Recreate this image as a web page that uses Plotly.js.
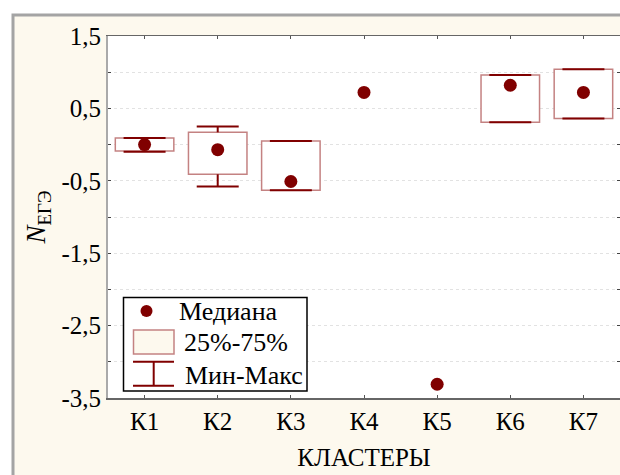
<!DOCTYPE html>
<html>
<head>
<meta charset="utf-8">
<script src="https://cdn.plot.ly/plotly-3.0.1.min.js"></script>
<style>html,body{margin:0;padding:0;background:#fff;}#chart{width:620px;height:475px;}</style>
</head>
<body>
<div id="chart"></div>
<script>
// ---- data ----
const clusters = ['К1', 'К2', 'К3', 'К4', 'К5', 'К6', 'К7'];
const medians  = [0.00, -0.07, -0.51, 0.72, -3.31, 0.82, 0.72];
const q1       = [-0.09, -0.41, -0.63, null, null, 0.31, 0.36];
const q3       = [0.09, 0.17, 0.05, null, null, 0.96, 1.04];
const mins     = [-0.10, -0.58, -0.63, null, null, 0.31, 0.36];
const maxs     = [0.09, 0.25, 0.05, null, null, 0.96, 1.04];
const yTickVals = [-3.5, -2.5, -1.5, -0.5, 0.5, 1.5];
const yTickText = ['-3,5', '-2,5', '-1,5', '-0,5', '0,5', '1,5'];
const yMinorVals = [-3, -2, -1, 0, 1];
const legendLabels = ['Медиана', '25%-75%', 'Мин-Макс'];

// ---- styles ----
const DARK = '#800000';
const BOXLINE = '#c48282';
const CREAM = '#fdf9ee';
const GRID = '#e2e2e2';
const FONT = 'Liberation Serif, Times New Roman, serif';
const xs = clusters.map((_, i) => i + 1);
const capHalf = 0.287;

// boxes
const boxBase = q1.map(v => v);
const boxHeight = q1.map((v, i) => (v === null || q3[i] === null) ? null : q3[i] - v);

// whiskers (segments built from data arrays)
const wx = [], wy = [];
xs.forEach((x, i) => {
  if (maxs[i] === null) return;
  wx.push(x - capHalf, x + capHalf, null, x, x, null, x, x, null, x - capHalf, x + capHalf, null);
  wy.push(maxs[i], maxs[i], null, maxs[i], q3[i], null, q1[i], mins[i], null, mins[i], mins[i], null);
});

const traces = [
  {type: 'bar', x: xs, y: boxHeight, base: boxBase, width: 0.8,
   marker: {color: '#ffffff', line: {color: BOXLINE, width: 1.5}}, showlegend: false, hoverinfo: 'skip'},
  {type: 'scatter', mode: 'lines', x: wx, y: wy, line: {color: DARK, width: 2}, showlegend: false, hoverinfo: 'skip'},
  {type: 'scatter', mode: 'markers', x: xs, y: medians, marker: {color: DARK, size: 13}, showlegend: false}
];

// pixel -> paper helpers (layout positions only)
const PL = 108, PT = 36, PW = 512, PH = 362;
const fx = px => (px - PL) / PW;
const fy = py => (PT + PH - py) / PH;

const shapes = [
  {type: 'rect', xref: 'paper', yref: 'paper', layer: 'below', x0: fx(13), x1: fx(660), y0: fy(520), y1: fy(15),
   fillcolor: CREAM, line: {color: '#a4a4a4', width: 3}},
  {type: 'rect', xref: 'paper', yref: 'paper', layer: 'below', x0: 0, x1: 1, y0: 0, y1: 1,
   fillcolor: '#ffffff', line: {width: 0}},
  // legend
  {type: 'rect', xref: 'paper', yref: 'paper', layer: 'above', x0: fx(123.5), x1: fx(307), y0: fy(391), y1: fy(297.5),
   fillcolor: '#ffffff', line: {color: '#000000', width: 1.5}},
  {type: 'circle', xref: 'paper', yref: 'paper', layer: 'above', x0: fx(140.5), x1: fx(152.5), y0: fy(317), y1: fy(305),
   fillcolor: DARK, line: {width: 0}},
  {type: 'rect', xref: 'paper', yref: 'paper', layer: 'above', x0: fx(133.5), x1: fx(174), y0: fy(354), y1: fy(330),
   fillcolor: CREAM, line: {color: BOXLINE, width: 1.5}},
  {type: 'line', xref: 'paper', yref: 'paper', layer: 'above', x0: fx(133), x1: fx(174), y0: fy(361.7), y1: fy(361.7),
   line: {color: DARK, width: 2}},
  {type: 'line', xref: 'paper', yref: 'paper', layer: 'above', x0: fx(133), x1: fx(174), y0: fy(385.7), y1: fy(385.7),
   line: {color: DARK, width: 2}},
  {type: 'line', xref: 'paper', yref: 'paper', layer: 'above', x0: fx(153.7), x1: fx(153.7), y0: fy(385.7), y1: fy(361.7),
   line: {color: DARK, width: 2}}
];

const annotations = [
  {text: legendLabels[0], x: fx(177), y: fy(311)},
  {text: legendLabels[1], x: fx(182), y: fy(342)},
  {text: legendLabels[2], x: fx(183), y: fy(375)}
].map(a => Object.assign(a, {xref: 'paper', yref: 'paper', xanchor: 'left', yanchor: 'middle', showarrow: false,
  font: {family: FONT, size: 26, color: '#000'}}));

const layout = {
  width: 620, height: 475,
  margin: {l: PL, r: 0, t: PT, b: 475 - PT - PH, pad: 0},
  paper_bgcolor: '#ffffff', plot_bgcolor: '#ffffff',
  font: {family: FONT, size: 25, color: '#000'},
  showlegend: false,
  xaxis: {
    type: 'linear', range: [0.5, 7.5], tickvals: xs, ticktext: clusters,
    ticks: 'inside', ticklen: 3, tickwidth: 1, tickcolor: '#555',
    showline: true, linecolor: '#666', linewidth: 1.5, mirror: 'ticks',
    showgrid: false, zeroline: false,
    tickfont: {family: FONT, size: 25, color: '#000'},
    title: {text: 'КЛАСТЕРЫ', font: {family: FONT, size: 25, color: '#000'}, standoff: 15}
  },
  yaxis: {
    range: [-3.5, 1.5], tickvals: yTickVals, ticktext: yTickText,
    ticks: 'inside', ticklen: 3, tickwidth: 1, tickcolor: '#444',
    showline: true, linecolor: '#aaa', linewidth: 2, mirror: 'ticks',
    showgrid: true, gridcolor: GRID, griddash: 'dot', gridwidth: 1, zeroline: false,
    minor: {tickvals: yMinorVals, ticks: 'inside', ticklen: 3, tickwidth: 1, tickcolor: '#444',
            showgrid: true, gridcolor: GRID, griddash: 'dot', gridwidth: 1},
    tickfont: {family: FONT, size: 25, color: '#000'},
    title: {text: '<i>N</i><sub>ЕГЭ</sub>', font: {family: FONT, size: 27, color: '#000'}, standoff: 8}
  },
  shapes: shapes,
  annotations: annotations
};

Plotly.newPlot('chart', traces, layout, {displayModeBar: false, staticPlot: true});
</script>
</body>
</html>
